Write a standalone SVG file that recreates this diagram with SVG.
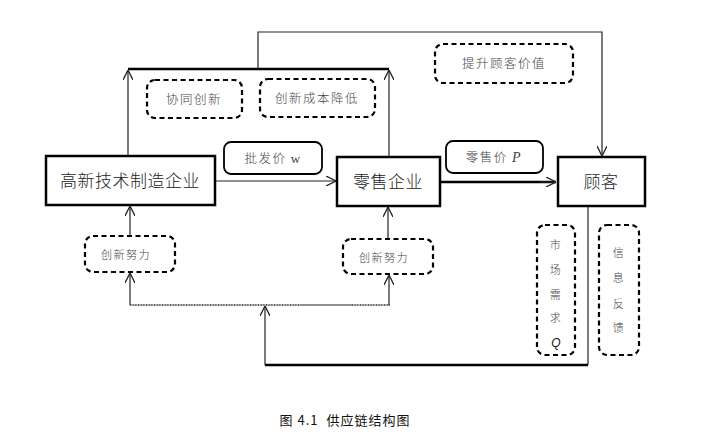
<svg xmlns="http://www.w3.org/2000/svg" width="701" height="436" viewBox="0 0 701 436">
<style>
.box{fill:#fff;stroke:#000;stroke-width:2.5}
.dash{fill:#fff;stroke:#000;stroke-width:2.2;stroke-dasharray:5 3.5}
.solidr{fill:#fff;stroke:#000;stroke-width:1.8}
.main{font-family:"Noto Sans CJK SC","Liberation Sans",sans-serif;font-size:17px;font-weight:300;fill:#222;text-anchor:middle;letter-spacing:0.5px}
.lab{font-family:"Noto Sans CJK SC","Liberation Sans",sans-serif;font-size:12.5px;font-weight:300;fill:#444;text-anchor:middle;letter-spacing:1.5px}
.sm{font-family:"Noto Sans CJK SC","Liberation Sans",sans-serif;font-size:11px;font-weight:300;fill:#444;text-anchor:middle;letter-spacing:1.5px}
.ln{fill:none;stroke:#222;stroke-width:1.2}
.thick{fill:none;stroke:#000;stroke-width:2.5}
</style>
<defs>
<marker id="ah" viewBox="0 0 10 10" refX="10" refY="5" markerWidth="10" markerHeight="10" markerUnits="userSpaceOnUse" orient="auto">
<polyline points="0,0 10,5 0,10" fill="none" stroke="#222" stroke-width="1.3"/>
</marker>
</defs>
<g id="connectors">
<line class="thick" x1="128" y1="69" x2="389" y2="69"/>
<line class="ln" x1="128" y1="155" x2="128" y2="70" marker-end="url(#ah)"/>
<line class="ln" x1="389" y1="157" x2="389" y2="70" marker-end="url(#ah)"/>
<polyline class="ln" points="258,69 258,32 602,32 602,156" marker-end="url(#ah)"/>
<line class="ln" x1="215" y1="181" x2="336" y2="181" marker-end="url(#ah)"/>
<line class="thick" x1="440" y1="182" x2="556" y2="182" stroke-width="2.2"/>
<line class="ln" x1="540" y1="182" x2="556" y2="182" marker-end="url(#ah)"/>
<line class="ln" x1="130" y1="236" x2="130" y2="206" marker-end="url(#ah)"/>
<line class="ln" x1="388" y1="239" x2="388" y2="207" marker-end="url(#ah)"/>
<line class="ln" x1="588" y1="206" x2="588" y2="365"/>
<line class="thick" x1="588" y1="365" x2="265" y2="365" stroke-width="2"/>
<line class="ln" x1="265" y1="365" x2="265" y2="306" marker-end="url(#ah)"/>
<line x1="130" y1="305" x2="300" y2="305" stroke="#222" stroke-width="1.5" stroke-dasharray="1 0.6"/>
<line x1="300" y1="305" x2="352" y2="305" stroke="#222" stroke-width="1.2"/>
<line x1="352" y1="305" x2="390" y2="305" stroke="#222" stroke-width="1.5" stroke-dasharray="1 0.6"/>
<line class="ln" x1="130" y1="305" x2="130" y2="273" marker-end="url(#ah)"/>
<line class="ln" x1="389" y1="305" x2="389" y2="275" marker-end="url(#ah)"/>
</g>
<g id="manufacturer">
<rect class="box" x="46" y="156" width="169" height="49"/>
<text class="main" x="130" y="187">高新技术制造企业</text>
</g>
<g id="retailer">
<rect class="box" x="337" y="157" width="103" height="49"/>
<text class="main" x="388" y="188">零售企业</text>
</g>
<g id="customer">
<rect class="box" x="558" y="157" width="87" height="49"/>
<text class="main" x="601" y="188">顾客</text>
</g>
<g id="wholesale">
<rect class="solidr" x="224" y="142" width="98" height="32" rx="7"/>
<text class="lab" x="273" y="163">批发价 <tspan font-family="Liberation Serif,serif" font-size="13">w</tspan></text>
</g>
<g id="retailprice">
<rect class="solidr" x="446" y="141" width="97" height="32" rx="7"/>
<text class="lab" x="494" y="162">零售价 <tspan font-family="Liberation Serif,serif" font-style="italic" font-size="14">P</tspan></text>
</g>
<g id="cocreate">
<rect class="dash" x="147" y="80" width="95" height="38" rx="8"/>
<text class="lab" x="194" y="104">协同创新</text>
</g>
<g id="costreduce">
<rect class="dash" x="260" y="79" width="115" height="38" rx="8"/>
<text class="lab" x="317" y="103">创新成本降低</text>
</g>
<g id="value">
<rect class="dash" x="435" y="44" width="138" height="39" rx="8"/>
<text class="lab" x="504" y="68">提升顾客价值</text>
</g>
<g id="effort1">
<rect class="dash" x="85" y="236" width="90" height="36" rx="8"/>
<text class="sm" x="126" y="259">创新努力</text>
</g>
<g id="effort2">
<rect class="dash" x="343" y="239" width="90" height="35" rx="8"/>
<text class="sm" x="384" y="262">创新努力</text>
</g>
<g id="demand">
<rect class="dash" x="537" y="225" width="38" height="130" rx="8"/>
<text class="sm" x="556" y="249">市</text>
<text class="sm" x="556" y="274">场</text>
<text class="sm" x="556" y="299">需</text>
<text class="sm" x="556" y="322">求</text>
<text x="556" y="347" font-family="Liberation Sans,sans-serif" font-style="italic" font-size="12" fill="#111" text-anchor="middle">Q</text>
</g>
<g id="feedback">
<rect class="dash" x="599" y="225" width="40" height="130" rx="8"/>
<text class="sm" x="619" y="257">信</text>
<text class="sm" x="619" y="282">息</text>
<text class="sm" x="619" y="308">反</text>
<text class="sm" x="619" y="332">馈</text>
</g>
<g id="caption">
<text x="345" y="425" font-family="Noto Sans CJK SC,Liberation Sans,sans-serif" font-size="13" fill="#111" text-anchor="middle" letter-spacing="1" style="white-space:pre">图 4.1  供应链结构图</text>
</g>
</svg>
